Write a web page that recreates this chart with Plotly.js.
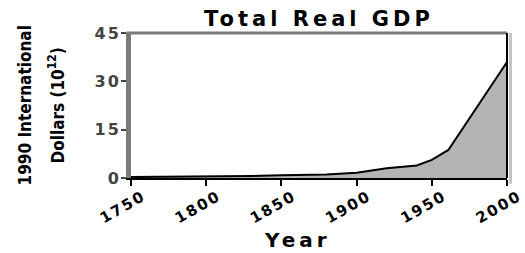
<!DOCTYPE html>
<html>
<head>
<meta charset="utf-8">
<script src="https://cdn.plot.ly/plotly-3.0.1.min.js"></script>
<style>
  html, body { margin: 0; padding: 0; background: #fff; }
  #chart { width: 525px; height: 253px; }
  .gtitle { letter-spacing: 4px; }
  .xtick text { letter-spacing: 2px; }
  .ytick text { letter-spacing: 2px; }
  .xtitle-ann .annotation-text { letter-spacing: 4px; }
</style>
</head>
<body>
<div id="chart"></div>
<script>
// Data
const years = [1750, 1800, 1830, 1850, 1880, 1900, 1920, 1940, 1950, 1961, 2000];
const gdpTrillions = [0.3, 0.4, 0.65, 0.85, 1.05, 1.6, 3.0, 3.9, 5.6, 8.7, 36.0];
const xTickVals = [1750, 1800, 1850, 1900, 1950, 2000];
const xTickText = ['1750', '1800', '1850', '1900', '1950', '2000'];
const yTickVals = [0, 15, 30, 45];
const yTickText = ['0', '15', '30', '45'];

const boldFont = 'DejaVu Sans, Liberation Sans, Arial, sans-serif';
const condFont = 'DejaVu Sans Condensed, Liberation Sans Narrow, DejaVu Sans, sans-serif';

const trace = {
  x: years,
  y: gdpTrillions,
  type: 'scatter',
  mode: 'lines',
  fill: 'tozeroy',
  fillcolor: '#b4b4b4',
  line: { color: '#000000', width: 2 },
  hoverinfo: 'skip'
};

const layout = {
  width: 525,
  height: 253,
  margin: { l: 131, r: 18, t: 33, b: 75 },
  paper_bgcolor: '#ffffff',
  plot_bgcolor: '#ffffff',
  showlegend: false,
  title: {
    text: 'Total Real GDP',
    font: { family: boldFont, size: 21, weight: 'bold', color: '#000' },
    xref: 'paper', x: 0.5, xanchor: 'center',
    yref: 'container', y: 0.925, yanchor: 'middle'
  },
  xaxis: {
    range: [1750, 2000],
    tickvals: xTickVals,
    ticktext: xTickText,
    tickangle: -30,
    ticks: 'outside', ticklen: 6, tickwidth: 2, tickcolor: '#000',
    ticklabelshift: 12,
    ticklabelstandoff: -4,
    ticklabeloverflow: 'allow',
    tickfont: { family: boldFont, size: 15, weight: 'bold', color: '#000' },
    showline: true, linecolor: '#000', linewidth: 2,
    showgrid: false, zeroline: false, fixedrange: true
  },
  yaxis: {
    range: [0, 45],
    tickvals: yTickVals,
    ticktext: yTickText,
    ticks: 'outside', ticklen: 5, tickwidth: 2, tickcolor: '#444',
    ticklabelstandoff: -3,
    tickfont: { family: boldFont, size: 16, weight: 'bold', color: '#444' },
    showline: true, linecolor: '#7a7a7a', linewidth: 5,
    showgrid: false, zeroline: false, fixedrange: true
  },
  shapes: [
    { type: 'line', xref: 'paper', yref: 'paper', x0: -0.012, x1: 1, y0: 1, y1: 1,
      line: { color: '#7a7a7a', width: 3 } },
    { type: 'line', xref: 'paper', yref: 'paper', x0: 1, x1: 1, y0: 0, y1: 1,
      line: { color: '#000', width: 2 } },
    { type: 'rect', xref: 'paper', yref: 'paper', xsizemode: 'pixel', xanchor: 1,
      x0: 2, x1: 5, y0: -0.04, y1: 1, line: { width: 0 }, fillcolor: '#c4c4c4' }
  ],
  annotations: [
    { text: 'Year', xref: 'paper', yref: 'paper', x: 0.444, y: 0, yshift: -62,
      xanchor: 'center', yanchor: 'middle', showarrow: false,
      font: { family: boldFont, size: 20, weight: 'bold', color: '#000' } },
    { text: '<b>1990 International</b>', xref: 'paper', yref: 'paper', x: 0, y: 0.5,
      xshift: -107, xanchor: 'center', yanchor: 'middle', textangle: -90, showarrow: false,
      font: { family: condFont, size: 17, weight: 'bold', color: '#000' } },
    { text: '<b>Dollars (10<sup>12</sup>)</b>', xref: 'paper', yref: 'paper', x: 0, y: 0.5,
      xshift: -75, xanchor: 'center', yanchor: 'middle', textangle: -90, showarrow: false,
      font: { family: condFont, size: 17, weight: 'bold', color: '#000' } }
  ]
};

Plotly.newPlot('chart', [trace], layout, { displayModeBar: false, staticPlot: true }).then(function (gd) {
  const anns = gd.querySelectorAll('.annotation');
  if (anns.length) anns[0].classList.add('xtitle-ann');
});
</script>
</body>
</html>
